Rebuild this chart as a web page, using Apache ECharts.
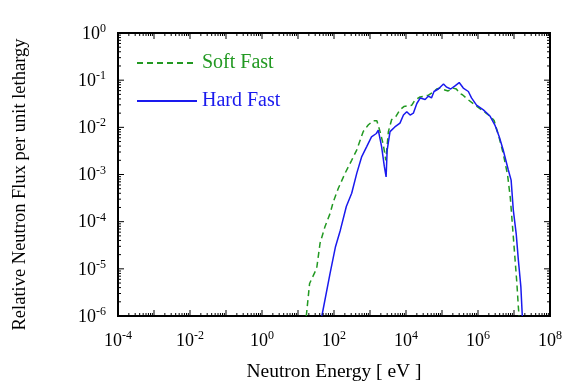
<!DOCTYPE html>
<html>
<head>
<meta charset="utf-8">
<script src="https://cdn.jsdelivr.net/npm/echarts@6/dist/echarts.min.js"></script>
<style>
  html, body { margin: 0; padding: 0; background: #fff; }
  #main { width: 576px; height: 382px; }
</style>
</head>
<body>
<div id="main"></div>
<script>
// Hard Fast spectrum (energy in eV, relative flux per unit lethargy)
var hardEnergy = [46, 78, 110, 150, 220, 310, 430, 590, 810, 1100, 1500, 1700, 2100, 2500, 2800,
    3000, 3600, 4900, 6800, 8500, 1.05e4, 1.3e4, 1.6e4, 2.0e4, 2.5e4, 3.4e4, 4.2e4, 5.1e4, 6.0e4,
    7.9e4, 1.1e5, 1.35e5, 1.74e5, 2.3e5, 3.0e5, 3.9e5, 5.4e5, 6.6e5, 9.1e5, 1.41e6, 2.14e6, 2.95e6,
    3.89e6, 5.01e6, 6.92e6, 8.32e6, 9.55e6, 1.15e7, 1.32e7, 1.55e7, 1.70e7];
var hardFlux = [1e-6, 8.1e-6, 2.95e-5, 6.6e-5, 2.1e-4, 4.0e-4, 1.07e-3, 2.4e-3, 3.9e-3, 6.3e-3, 7.4e-3,
    8.7e-3, 3.9e-3, 1.48e-3, 8.9e-4, 3.3e-3, 8.1e-3, 1.02e-2, 1.23e-2, 1.82e-2, 2.14e-2, 1.82e-2, 2.0e-2,
    3.2e-2, 4.2e-2, 3.9e-2, 4.6e-2, 4.2e-2, 5.75e-2, 6.5e-2, 8.3e-2, 7.1e-2, 6.5e-2, 7.6e-2, 8.9e-2,
    6.8e-2, 5.75e-2, 4.2e-2, 2.95e-2, 2.34e-2, 1.74e-2, 1.12e-2, 6.3e-3, 3.3e-3, 1.26e-3, 7.6e-4,
    1.78e-4, 5.6e-5, 1.55e-5, 4.2e-6, 1e-6];

// Soft Fast spectrum
var softEnergy = [17, 21, 33, 41, 56, 78, 95, 132, 204, 309, 427, 646, 891, 1230, 1550, 1905, 2340,
    2750, 3240, 3980, 5250, 6760, 8710, 1.45e4, 1.78e4, 2.45e4, 4.2e4, 6.0e4, 7.1e4, 8.9e4, 1.12e5,
    1.48e5, 2.0e5, 2.5e5, 3.16e5, 3.7e5, 5.0e5, 9.1e5, 1.41e6, 2.14e6, 2.8e6, 3.98e6, 5.0e6, 6.6e6,
    7.9e6, 9.1e6, 1.07e7, 1.2e7, 1.32e7, 1.38e7];
var softFlux = [1e-6, 4.9e-6, 1.02e-5, 3.5e-5, 7.8e-5, 1.5e-4, 2.6e-4, 5.1e-4, 1.07e-3, 2.0e-3, 3.3e-3,
    8.1e-3, 1.12e-2, 1.38e-2, 1.38e-2, 8.1e-3, 4.3e-3, 2.0e-3, 8.1e-3, 1.45e-2, 1.7e-2, 2.34e-2, 2.75e-2,
    2.95e-2, 3.8e-2, 4.4e-2, 4.8e-2, 5.75e-2, 6.5e-2, 6.8e-2, 6.3e-2, 5.9e-2, 6.8e-2, 6.5e-2, 5.2e-2,
    4.9e-2, 4.0e-2, 2.8e-2, 2.2e-2, 1.74e-2, 1.4e-2, 5.6e-3, 2.8e-3, 1.0e-3, 3.2e-4, 7.9e-5, 1.58e-5,
    5.0e-6, 1.58e-6, 1e-6];

var xMin = 1e-4, xMax = 1e8;
var yMin = 1e-6, yMax = 1;
var minorSteps = [2, 3, 4, 5, 6, 7, 8, 9];

function zip(a, b) {
    var out = [];
    for (var i = 0; i < a.length; i++) out.push([a[i], b[i]]);
    return out;
}

// tick values per decade: [value, length]; major = 6px, minor = 3px
function decadeTicks(lo, hi) {
    var out = [];
    for (var e = lo; e <= hi; e++) {
        out.push([Math.pow(10, e), 6]);
        if (e < hi) {
            for (var k = 0; k < minorSteps.length; k++) out.push([minorSteps[k] * Math.pow(10, e), 3]);
        }
    }
    return out;
}

// inward frame ticks as thin rect markPoints sitting on the plot edges
function tickMark(coord, size, offset) {
    return { coord: coord, symbol: 'rect', symbolSize: size, symbolOffset: offset };
}
function frameTicks() {
    var out = [];
    decadeTicks(-4, 8).forEach(function (t) {
        out.push(tickMark([t[0], yMin], [1, t[1]], [0, -t[1] / 2]));
        out.push(tickMark([t[0], yMax], [1, t[1]], [0, t[1] / 2]));
    });
    decadeTicks(-6, 0).forEach(function (t) {
        out.push(tickMark([xMin, t[0]], [t[1], 1], [t[1] / 2, 0]));
        out.push(tickMark([xMax, t[0]], [t[1], 1], [-t[1] / 2, 0]));
    });
    return out;
}

var serif = 'Liberation Serif';

function powLabel(v, step) {
    var e = Math.round(Math.log10(v));
    if (e % step !== 0) return '';
    return '{b|10}{s|' + e + '}';
}
var labelRich = {
    b: { fontSize: 18, fontFamily: serif, color: '#000', lineHeight: 20, verticalAlign: 'bottom' },
    s: { fontSize: 12, fontFamily: serif, color: '#000', lineHeight: 20, verticalAlign: 'top' }
};

var myChart = echarts.init(document.getElementById('main'));

var option = {
    backgroundColor: '#fff',
    animation: false,
    grid: {
        left: 118, right: 26, top: 33, bottom: 66,
        outerBoundsMode: 'none',
        show: true, borderColor: '#000', borderWidth: 2, backgroundColor: 'transparent'
    },
    legend: {
        orient: 'vertical',
        left: 136,
        top: 53,
        padding: 0,
        itemWidth: 60,
        itemHeight: 16,
        itemGap: 18,
        itemStyle: { opacity: 0 },
        textStyle: { fontFamily: serif, fontSize: 20 },
        data: [
            { name: 'Soft Fast', textStyle: { color: '#229922' } },
            { name: 'Hard Fast', textStyle: { color: '#1a1aee' } }
        ]
    },
    xAxis: {
        type: 'log',
        logBase: 10,
        min: xMin,
        max: xMax,
        interval: 1,
        name: 'Neutron Energy [ eV ]',
        nameLocation: 'middle',
        nameGap: 46,
        nameTextStyle: { fontFamily: serif, fontSize: 19.5, color: '#000' },
        axisLine: { show: false },
        axisTick: { show: false },
        splitLine: { show: false },
        axisLabel: {
            margin: 14,
            formatter: function (v) { return powLabel(v, 2); },
            rich: labelRich
        }
    },
    yAxis: {
        type: 'log',
        logBase: 10,
        min: yMin,
        max: yMax,
        interval: 1,
        name: 'Relative Neutron Flux per unit lethargy',
        nameLocation: 'middle',
        nameRotate: 90,
        nameGap: 88,
        nameTextStyle: { fontFamily: serif, fontSize: 18.5, color: '#000', padding: [0, 20, 0, 0] },
        axisLine: { show: false },
        axisTick: { show: false },
        splitLine: { show: false },
        axisLabel: {
            margin: 12,
            formatter: function (v) { return powLabel(v, 1); },
            rich: labelRich
        }
    },
    series: [
        {
            name: 'Soft Fast',
            type: 'line',
            symbol: 'none',
            data: zip(softEnergy, softFlux),
            lineStyle: { color: '#229922', width: 1.5, type: [6, 4] },
            itemStyle: { color: '#229922' },
            z: 3
        },
        {
            name: 'Hard Fast',
            type: 'line',
            symbol: 'none',
            data: zip(hardEnergy, hardFlux),
            lineStyle: { color: '#1a1aee', width: 1.5 },
            itemStyle: { color: '#1a1aee' },
            z: 4,
            markPoint: {
                silent: true,
                animation: false,
                label: { show: false },
                itemStyle: { color: '#000' },
                emphasis: { disabled: true },
                data: frameTicks()
            }
        }
    ]
};
myChart.setOption(option);
</script>
</body>
</html>
